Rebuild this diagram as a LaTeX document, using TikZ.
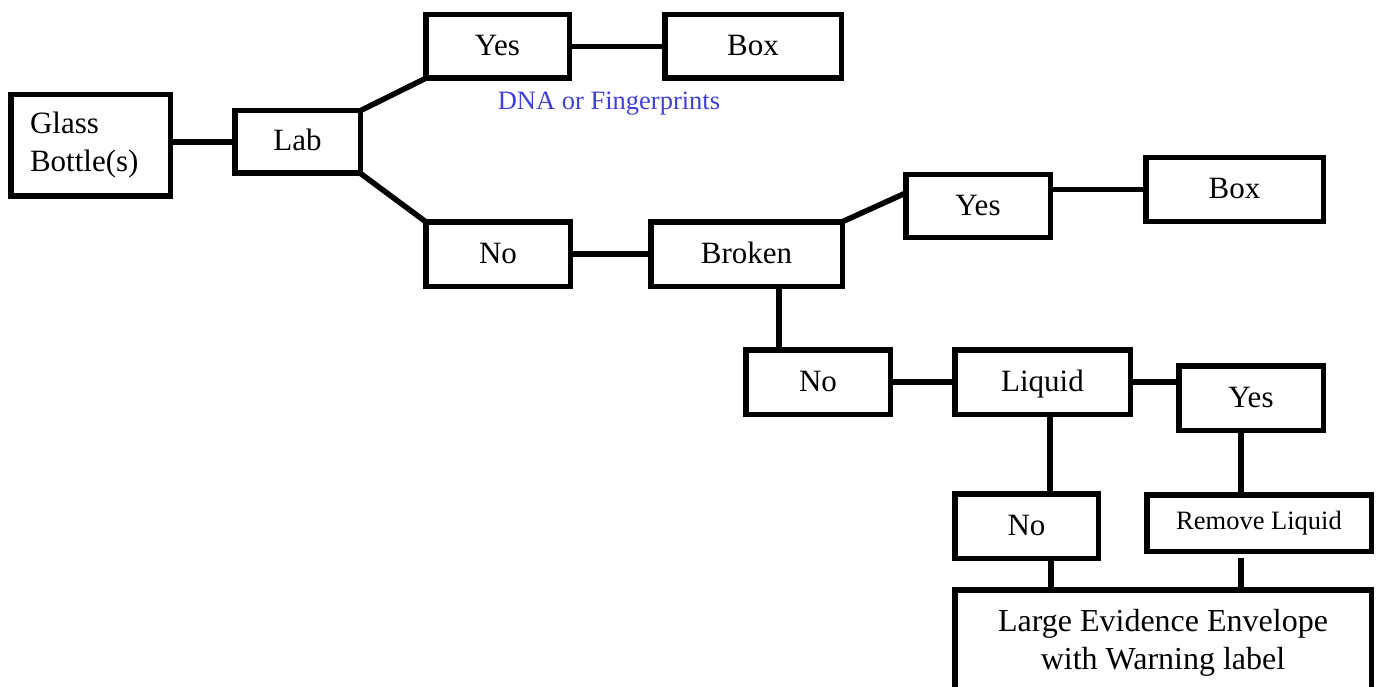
\documentclass[tikz,border=0pt]{standalone}
\usepackage{fontspec}
\setmainfont{Liberation Serif}
\definecolor{notecolor}{RGB}{64,64,216}
\tikzset{
    frame/.style={draw, line width=5.5pt, inner sep=0pt, outer sep=0pt,
        font=\fontsize{31}{38}\selectfont},
    choice/.style={frame, text height=24pt, text depth=6pt},
    link/.style={line width=5.5pt}
}
\begin{document}
\begin{tikzpicture}[x=1pt,y=-1pt]
    \useasboundingbox (0,0) rectangle (1378,687);%画布大小
    \node[frame, minimum width=159.5pt, minimum height=101.5pt, text width=121pt, align=left] (glass) at (90.5,145.5) {Glass\\Bottle(s)};
    \node[choice, minimum width=125.5pt, minimum height=62.5pt] (lab) at (297.5,142) {Lab};
    \node[choice, minimum width=143.5pt, minimum height=63.5pt] (yesA) at (497.5,46.5) {Yes};
    \node[choice, minimum width=176.5pt, minimum height=63.5pt] (boxA) at (753,46.5) {Box};
    \node[text=notecolor, font=\fontsize{26.5}{32}\selectfont] (note) at (609,104) {DNA or Fingerprints};%蓝色说明文字
    \node[choice, minimum width=144.5pt, minimum height=64.5pt] (noA) at (498,254) {No};
    \node[choice, minimum width=191.5pt, minimum height=64.5pt] (broken) at (746.5,254) {Broken};
    \node[choice, minimum width=144.5pt, minimum height=62.5pt] (yesB) at (978,206) {Yes};
    \node[choice, minimum width=177.5pt, minimum height=63.5pt] (boxB) at (1234.5,189.5) {Box};
    \node[choice, minimum width=144.5pt, minimum height=64.5pt] (noB) at (818,382) {No};
    \node[choice, minimum width=175.5pt, minimum height=64.5pt] (liquid) at (1042.5,382) {Liquid};
    \node[choice, minimum width=144.5pt, minimum height=64.5pt] (yesC) at (1251,398) {Yes};
    \node[choice, minimum width=143.5pt, minimum height=64.5pt] (noC) at (1026.5,526) {No};
    \node[frame, minimum width=224.5pt, minimum height=56.5pt, text height=19pt, text depth=7pt,
        font=\fontsize{26.5}{32}\selectfont] (remove) at (1259,523) {Remove Liquid};
    \node[frame, minimum width=416.5pt, minimum height=106.5pt, align=center,
        font=\fontsize{32}{38}\selectfont] (envelope) at (1163,643) {Large Evidence Envelope\\with Warning label};%下边框超出画布
    % 连线
    \draw[link] (glass.east |- lab.west) -- (lab.west);
    \draw[link] (lab.north east) -- (yesA.south west);
    \draw[link] (lab.south east) -- (noA.north west);
    \draw[link] (yesA.east) -- (boxA.west);
    \draw[link] (noA.east) -- (broken.west);
    \draw[link] (broken.north east) -- ([yshift=13pt]yesB.west);
    \draw[link] (boxB.west -| yesB.east) -- (boxB.west);
    \coordinate (brokenstem) at ([xshift=32.5pt]broken.south);
    \draw[link] (brokenstem) -- (brokenstem |- noB.north);
    \draw[link] (noB.east) -- (liquid.west);
    \draw[link] (liquid.east) -- (liquid.east -| yesC.west);
    \coordinate (liquidstem) at ([xshift=7.5pt]liquid.south);
    \draw[link] (liquidstem) -- (liquidstem |- noC.north);
    \coordinate (yesstem) at ([xshift=-10pt]yesC.south);
    \draw[link] (yesstem) -- (yesstem |- remove.north);
    \coordinate (nostem) at ([xshift=24.5pt]noC.south);
    \draw[link] (nostem) -- (nostem |- envelope.north);
    \coordinate (removestem) at ([xshift=-18pt,yshift=-6.5pt]remove.south);%和上面的框留一点空隙
    \draw[link] (removestem) -- (removestem |- envelope.north);
\end{tikzpicture}
\end{document}
